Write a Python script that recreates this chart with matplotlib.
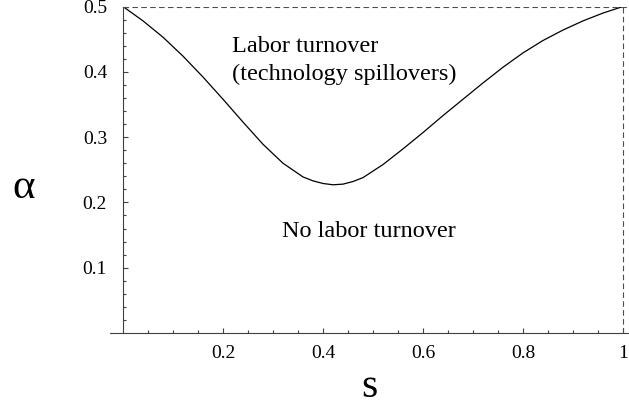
import matplotlib.pyplot as plt
import numpy as np

plt.rcParams['font.family'] = ['Liberation Serif', 'DejaVu Serif']

# boundary curve
s = np.array([0.0, 0.04, 0.08, 0.12, 0.16, 0.20, 0.24, 0.28, 0.32, 0.36, 0.38,
              0.40, 0.42, 0.44, 0.46, 0.48, 0.52, 0.56, 0.60, 0.64, 0.68, 0.72,
              0.76, 0.80, 0.84, 0.88, 0.92, 0.96, 1.0])
alpha = np.array([0.5, 0.478, 0.453, 0.424, 0.392, 0.358, 0.323, 0.289, 0.260, 0.239, 0.233,
                  0.229, 0.227, 0.228, 0.232, 0.238, 0.258, 0.282, 0.307, 0.333, 0.358, 0.383,
                  0.407, 0.429, 0.448, 0.464, 0.478, 0.490, 0.5])

xticks = [0.2, 0.4, 0.6, 0.8, 1.0]
xticklabels = ['0.2', '0.4', '0.6', '0.8', '1']
yticks = [0.1, 0.2, 0.3, 0.4, 0.5]
yticklabels = ['0.1', '0.2', '0.3', '0.4', '0.5']

fig = plt.figure(figsize=(6.29, 4.08), dpi=100)
ax = fig.add_axes([0.1749, 0.1838, 0.8251, 0.8002])

ax.plot(s, alpha, color='black', lw=0.9, solid_joinstyle='round')

# dashed frame at top and right
ax.hlines(alpha[0], s[0], 1.012, colors='0.3', lw=0.8, linestyles=(0, (5, 3)))
ax.vlines(s[-1], 0, alpha[-1], colors='0.3', lw=0.8, linestyles=(0, (5, 3)))

ax.set_xlim(-0.026, 1.012)
ax.set_ylim(0, 0.5)

for side in ['top', 'right']:
    ax.spines[side].set_visible(False)
ax.spines['left'].set_position(('data', 0))
ax.spines['bottom'].set_position(('data', 0))
ax.spines['left'].set_color('0.25')
ax.spines['bottom'].set_color('0.25')
ax.spines['left'].set_linewidth(0.8)
ax.spines['bottom'].set_linewidth(0.8)

ax.set_xticks(xticks)
ax.set_xticklabels(xticklabels)
ax.set_yticks(yticks)
ax.set_yticklabels(yticklabels)
ax.set_xticks(np.arange(0.05, 1.0, 0.05), minor=True)
ax.set_yticks(np.arange(0.02, 0.5, 0.02), minor=True)

ax.tick_params(which='both', direction='in', color='0.25', width=0.8, labelsize=14)
ax.tick_params(which='major', length=3.5)
ax.tick_params(which='minor', length=2.2)
ax.tick_params(axis='x', which='major', pad=8.5)
ax.tick_params(axis='y', which='major', pad=11.5)

ax.text(0.218, 0.4297, 'Labor turnover', fontsize=17.5, ha='left', va='baseline')
ax.text(0.218, 0.388, '(technology spillovers)', fontsize=17.5, ha='left', va='baseline')
ax.text(0.317, 0.147, 'No labor turnover', fontsize=17.5, ha='left', va='baseline')

fig.text(24 / 629, 1 - 188 / 408, '\u03b1', fontsize=31, ha='center', va='center')
fig.text(369 / 629, 1 - 387 / 408, 's', fontsize=30, ha='center', va='center')

plt.savefig('out.png', dpi=100)
